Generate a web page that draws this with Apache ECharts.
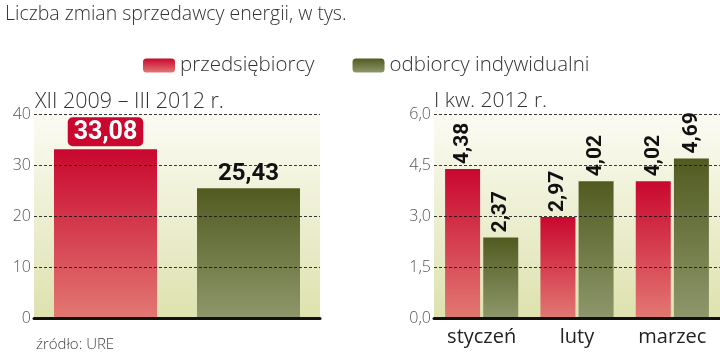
<!DOCTYPE html>
<html>
<head>
<meta charset="utf-8">
<script src="https://cdn.jsdelivr.net/npm/echarts@6/dist/echarts.min.js"></script>
<style>
  html, body { margin: 0; padding: 0; background: #fff; }
  #chart { width: 720px; height: 354px; }
</style>
</head>
<body>
<div id="chart"></div>
<script>
// data
const seriesNames = ['przedsiębiorcy', 'odbiorcy indywidualni'];
const leftValues = [33.08, 25.43]; // XII 2009 – III 2012
const months = ['styczeń', 'luty', 'marzec'];
const firmValues = [4.38, 2.97, 4.02];
const homeValues = [2.37, 4.02, 4.69];

const numFont = "Roboto, sans-serif";
const textFont = "'Open Sans', sans-serif";

const grad = (top, bottom) => new echarts.graphic.LinearGradient(0, 0, 0, 1, [
  { offset: 0, color: top }, { offset: 1, color: bottom }
]);
const redFill = () => grad('#c9072f', '#e27872');
const greenFill = () => grad('#515b20', '#8e976b');
const plotBg = () => grad('#fcfbf4', '#dde2ae');
const comma = (v, d) => v.toFixed(d).replace('.', ',');

const chart = echarts.init(document.getElementById('chart'));

const yAxisCommon = {
  type: 'value',
  z: 3,
  axisLine: { show: false },
  axisTick: { show: false },
  axisLabel: { color: '#555', fontSize: 16, fontFamily: textFont, fontWeight: 300, margin: 3 },
  splitLine: { lineStyle: { color: 'rgba(20,20,20,0.85)', type: [3, 2], width: 1 } }
};
const xAxisCommon = {
  type: 'category',
  z: 3,
  axisLine: { lineStyle: { color: '#111', width: 3 } },
  axisTick: { show: false }
};
const plainText = size => ({ fontFamily: textFont, fontWeight: 300, fontSize: size, color: '#333' });

chart.setOption({
  animation: false,
  title: [
    { text: 'Liczba zmian sprzedawcy energii, w tys.', left: 0, top: -1, textStyle: plainText(19.5) },
    { text: 'XII 2009 – III 2012 r.', left: 30, top: 86, textStyle: plainText(21.5) },
    { text: 'I kw. 2012 r.', left: 429, top: 86, textStyle: plainText(21) },
    { text: 'źródło: URE', left: 31, top: 332, textStyle: Object.assign(plainText(15), { color: '#444' }) }
  ],
  legend: {
    left: 138, top: 50,
    itemWidth: 32, itemHeight: 14, itemGap: 38,
    icon: 'roundRect',
    textStyle: plainText(20.5),
    data: seriesNames
  },
  grid: [
    { left: 34, right: 400, top: 114, bottom: 36, show: true, borderWidth: 0, backgroundColor: plotBg() },
    { left: 434, right: 0, top: 114, bottom: 36, show: true, borderWidth: 0, backgroundColor: plotBg() }
  ],
  xAxis: [
    Object.assign({}, xAxisCommon, { gridIndex: 0, data: seriesNames, axisLabel: { show: false } }),
    Object.assign({}, xAxisCommon, { gridIndex: 1, data: months,
      axisLabel: { color: '#222', fontSize: 20, fontFamily: textFont, margin: 9 } })
  ],
  yAxis: [
    Object.assign({}, yAxisCommon, { gridIndex: 0, min: 0, max: 40, interval: 10 }),
    Object.assign({}, yAxisCommon, { gridIndex: 1, min: 0, max: 6, interval: 1.5,
      axisLabel: Object.assign({}, yAxisCommon.axisLabel, { formatter: v => comma(v, 1) }) })
  ],
  series: [
    {
      type: 'bar', xAxisIndex: 0, yAxisIndex: 0, barWidth: 103,
      data: [
        { value: leftValues[0], itemStyle: { color: redFill() },
          label: { show: true, position: 'top', distance: 3, formatter: p => comma(p.value, 2),
            color: '#fff', backgroundColor: '#c9072f', borderRadius: 5, padding: [3, 6, 1, 6],
            fontFamily: numFont, fontWeight: 'bold', fontSize: 25 } },
        { value: leftValues[1], itemStyle: { color: greenFill() },
          label: { show: true, position: 'top', distance: 2, formatter: p => comma(p.value, 2),
            color: '#111', fontFamily: numFont, fontWeight: 'bold', fontSize: 24 } }
      ]
    },
    {
      name: seriesNames[0], type: 'bar', xAxisIndex: 1, yAxisIndex: 1,
      barWidth: 35, barGap: '9%',
      itemStyle: { color: redFill() },
      data: firmValues,
      label: { show: true, position: 'top', rotate: 90, align: 'left', verticalAlign: 'middle',
        distance: 5, formatter: p => comma(p.value, 2),
        color: '#111', fontFamily: numFont, fontWeight: 'bold', fontSize: 21 }
    },
    {
      name: seriesNames[1], type: 'bar', xAxisIndex: 1, yAxisIndex: 1,
      barWidth: 35, barGap: '9%',
      itemStyle: { color: greenFill() },
      data: homeValues,
      label: { show: true, position: 'top', rotate: 90, align: 'left', verticalAlign: 'middle',
        distance: 5, formatter: p => comma(p.value, 2),
        color: '#111', fontFamily: numFont, fontWeight: 'bold', fontSize: 21 }
    }
  ]
});
</script>
</body>
</html>
